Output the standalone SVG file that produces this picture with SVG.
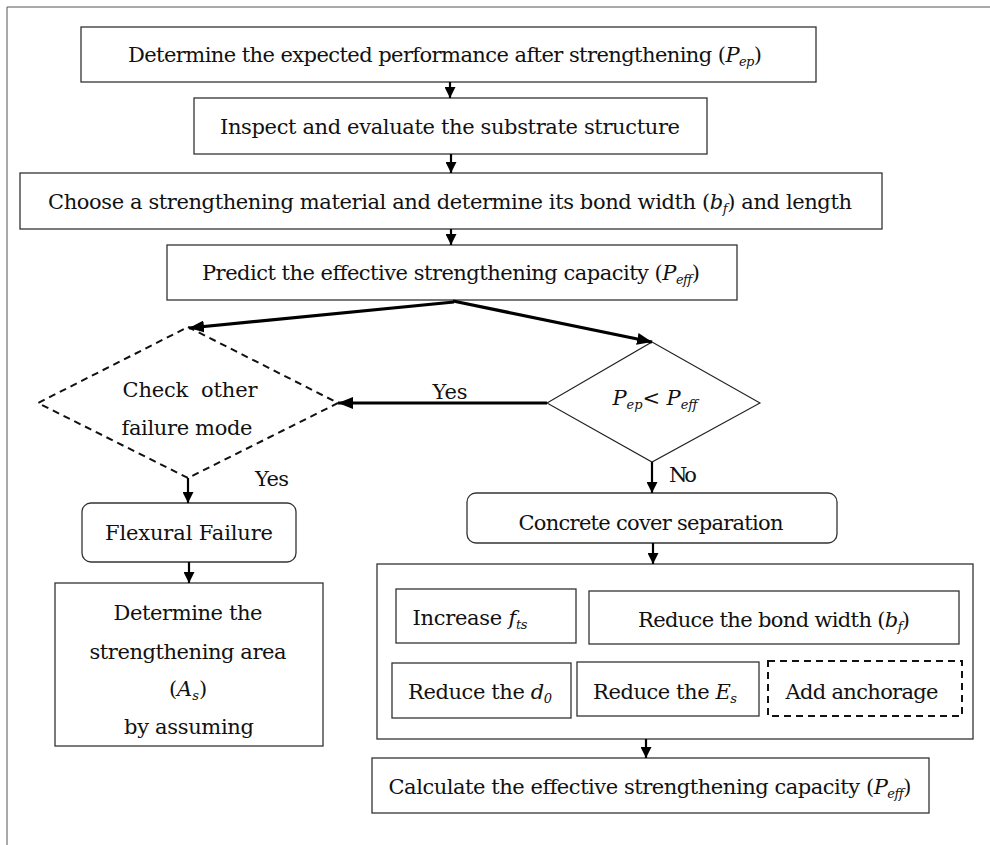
<svg xmlns="http://www.w3.org/2000/svg" width="990" height="845" viewBox="0 0 990 845">
<style>
.bx{fill:#fff;stroke:#333;stroke-width:1.3}
.dash{fill:none;stroke:#111;stroke-width:2;stroke-dasharray:7,5}
.dia{fill:#fff;stroke:#222;stroke-width:1.1}
.t{font-family:"DejaVu Serif","Liberation Serif",serif;font-size:21px;fill:#111;text-anchor:middle}
.i{font-style:italic}
.s{font-style:italic;font-size:13px}
.c{stroke:#000;fill:none}
.thin{stroke-width:2.2}
.thick{stroke-width:3.2}
</style>
<defs>
<marker id="ah" viewBox="0 0 10 10" refX="10" refY="5" markerWidth="11" markerHeight="11" markerUnits="userSpaceOnUse" orient="auto"><path d="M0,0 L10,5 L0,10 z" fill="#000"/></marker>
<marker id="ahb" viewBox="0 0 10 10" refX="10" refY="5" markerWidth="15" markerHeight="12" markerUnits="userSpaceOnUse" orient="auto" preserveAspectRatio="none"><path d="M0,0 L10,5 L0,10 z" fill="#000"/></marker>
</defs>
<path d="M7,845 V7 H990" fill="none" stroke="#555" stroke-width="1"/>

<g id="n1"><rect class="bx" x="81" y="27" width="735" height="55"/>
<text class="t" x="445" y="62" textLength="634">Determine the expected performance after strengthening (<tspan class="i">P</tspan><tspan class="s" dy="4">ep</tspan><tspan dy="-4">)</tspan></text></g>

<g id="n2"><rect class="bx" x="194" y="98" width="513" height="56"/>
<text class="t" x="450" y="134" textLength="460">Inspect and evaluate the substrate structure</text></g>

<g id="n3"><rect class="bx" x="20" y="173" width="862" height="56"/>
<text class="t" x="450" y="209" textLength="804">Choose a strengthening material and determine its bond width (<tspan class="i">b</tspan><tspan class="s" dy="4">f</tspan><tspan dy="-4">) and length</tspan></text></g>

<g id="n4"><rect class="bx" x="167" y="245" width="570" height="55"/>
<text class="t" x="451" y="280" textLength="498">Predict the effective strengthening capacity (<tspan class="i">P</tspan><tspan class="s" dy="4">eff</tspan><tspan dy="-4">)</tspan></text></g>

<g id="n5"><path class="dash" d="M188,327 L338,403 L188,478 L38,403 Z"/>
<text class="t" x="190" y="397" textLength="135" style="white-space:pre">Check  other</text>
<text class="t" x="187" y="435" textLength="131">failure mode</text></g>

<g id="n6"><path class="dia" d="M652,342 L760,403 L652,462 L547,403 Z"/>
<text class="t" x="655" y="405" textLength="85"><tspan class="i">P</tspan><tspan class="s" dy="4">ep</tspan><tspan dy="-4">&lt; </tspan><tspan class="i">P</tspan><tspan class="s" dy="4">eff</tspan></text></g>

<g id="n7"><rect class="bx" x="82" y="503" width="214" height="59" rx="9"/>
<text class="t" x="189" y="540" textLength="168">Flexural Failure</text></g>

<g id="n8"><rect class="bx" x="55" y="583" width="268" height="163"/>
<text class="t" x="188" y="620" textLength="149">Determine the</text>
<text class="t" x="188" y="659" textLength="197">strengthening area</text>
<text class="t" x="188" y="696">(<tspan class="i">A</tspan><tspan class="s" dy="4">s</tspan><tspan dy="-4">)</tspan></text>
<text class="t" x="189" y="734" textLength="130">by assuming</text></g>

<g id="n9"><rect class="bx" x="467" y="493" width="370" height="50" rx="9"/>
<text class="t" x="651" y="530" textLength="265">Concrete cover separation</text></g>

<g id="n10"><rect class="bx" x="377" y="564" width="596" height="175"/></g>

<g id="n11"><rect class="bx" x="396" y="589" width="180" height="54"/>
<text class="t" x="470" y="625" textLength="115">Increase <tspan class="i">f</tspan><tspan class="s" dy="4">ts</tspan></text></g>

<g id="n12"><rect class="bx" x="589" y="591" width="370" height="53"/>
<text class="t" x="774" y="627" textLength="272">Reduce the bond width (<tspan class="i">b</tspan><tspan class="s" dy="4">f</tspan><tspan dy="-4">)</tspan></text></g>

<g id="n13"><rect class="bx" x="392" y="663" width="179" height="55"/>
<text class="t" x="480" y="699" textLength="144">Reduce the <tspan class="i">d</tspan><tspan class="s" dy="4">0</tspan></text></g>

<g id="n14"><rect class="bx" x="577" y="662" width="182" height="54"/>
<text class="t" x="665" y="699" textLength="144">Reduce the <tspan class="i">E</tspan><tspan class="s" dy="4">s</tspan></text></g>

<g id="n15"><rect class="dash" x="768" y="661" width="194" height="55"/>
<text class="t" x="862" y="699" textLength="153">Add anchorage</text></g>

<g id="n16"><rect class="bx" x="372" y="758" width="557" height="55"/>
<text class="t" x="650" y="794" textLength="523">Calculate the effective strengthening capacity (<tspan class="i">P</tspan><tspan class="s" dy="4">eff</tspan><tspan dy="-4">)</tspan></text></g>

<g id="connectors">
<line class="c thin" x1="450" y1="82" x2="450" y2="98" marker-end="url(#ah)"/>
<line class="c thin" x1="451" y1="154" x2="451" y2="173" marker-end="url(#ah)"/>
<line class="c thin" x1="451" y1="229" x2="451" y2="245" marker-end="url(#ah)"/>
<line class="c thick" x1="454" y1="302" x2="189" y2="328" marker-end="url(#ahb)"/>
<line class="c thick" x1="453" y1="301" x2="652" y2="342" marker-end="url(#ahb)"/>
<line class="c thick" x1="547" y1="403" x2="338" y2="403" marker-end="url(#ahb)"/>
<line class="c thin" x1="188" y1="478" x2="188" y2="503" marker-end="url(#ah)"/>
<line class="c thin" x1="189" y1="562" x2="189" y2="583" marker-end="url(#ah)"/>
<line class="c thin" x1="652" y1="462" x2="652" y2="493" marker-end="url(#ah)"/>
<line class="c thin" x1="653" y1="543" x2="653" y2="564" marker-end="url(#ah)"/>
<line class="c thin" x1="646" y1="739" x2="646" y2="758" marker-end="url(#ah)"/>
<text class="t" x="450" y="399" textLength="35">Yes</text>
<text class="t" x="272" y="486" textLength="34">Yes</text>
<text class="t" x="683" y="482" textLength="28">No</text>
</g>
</svg>
